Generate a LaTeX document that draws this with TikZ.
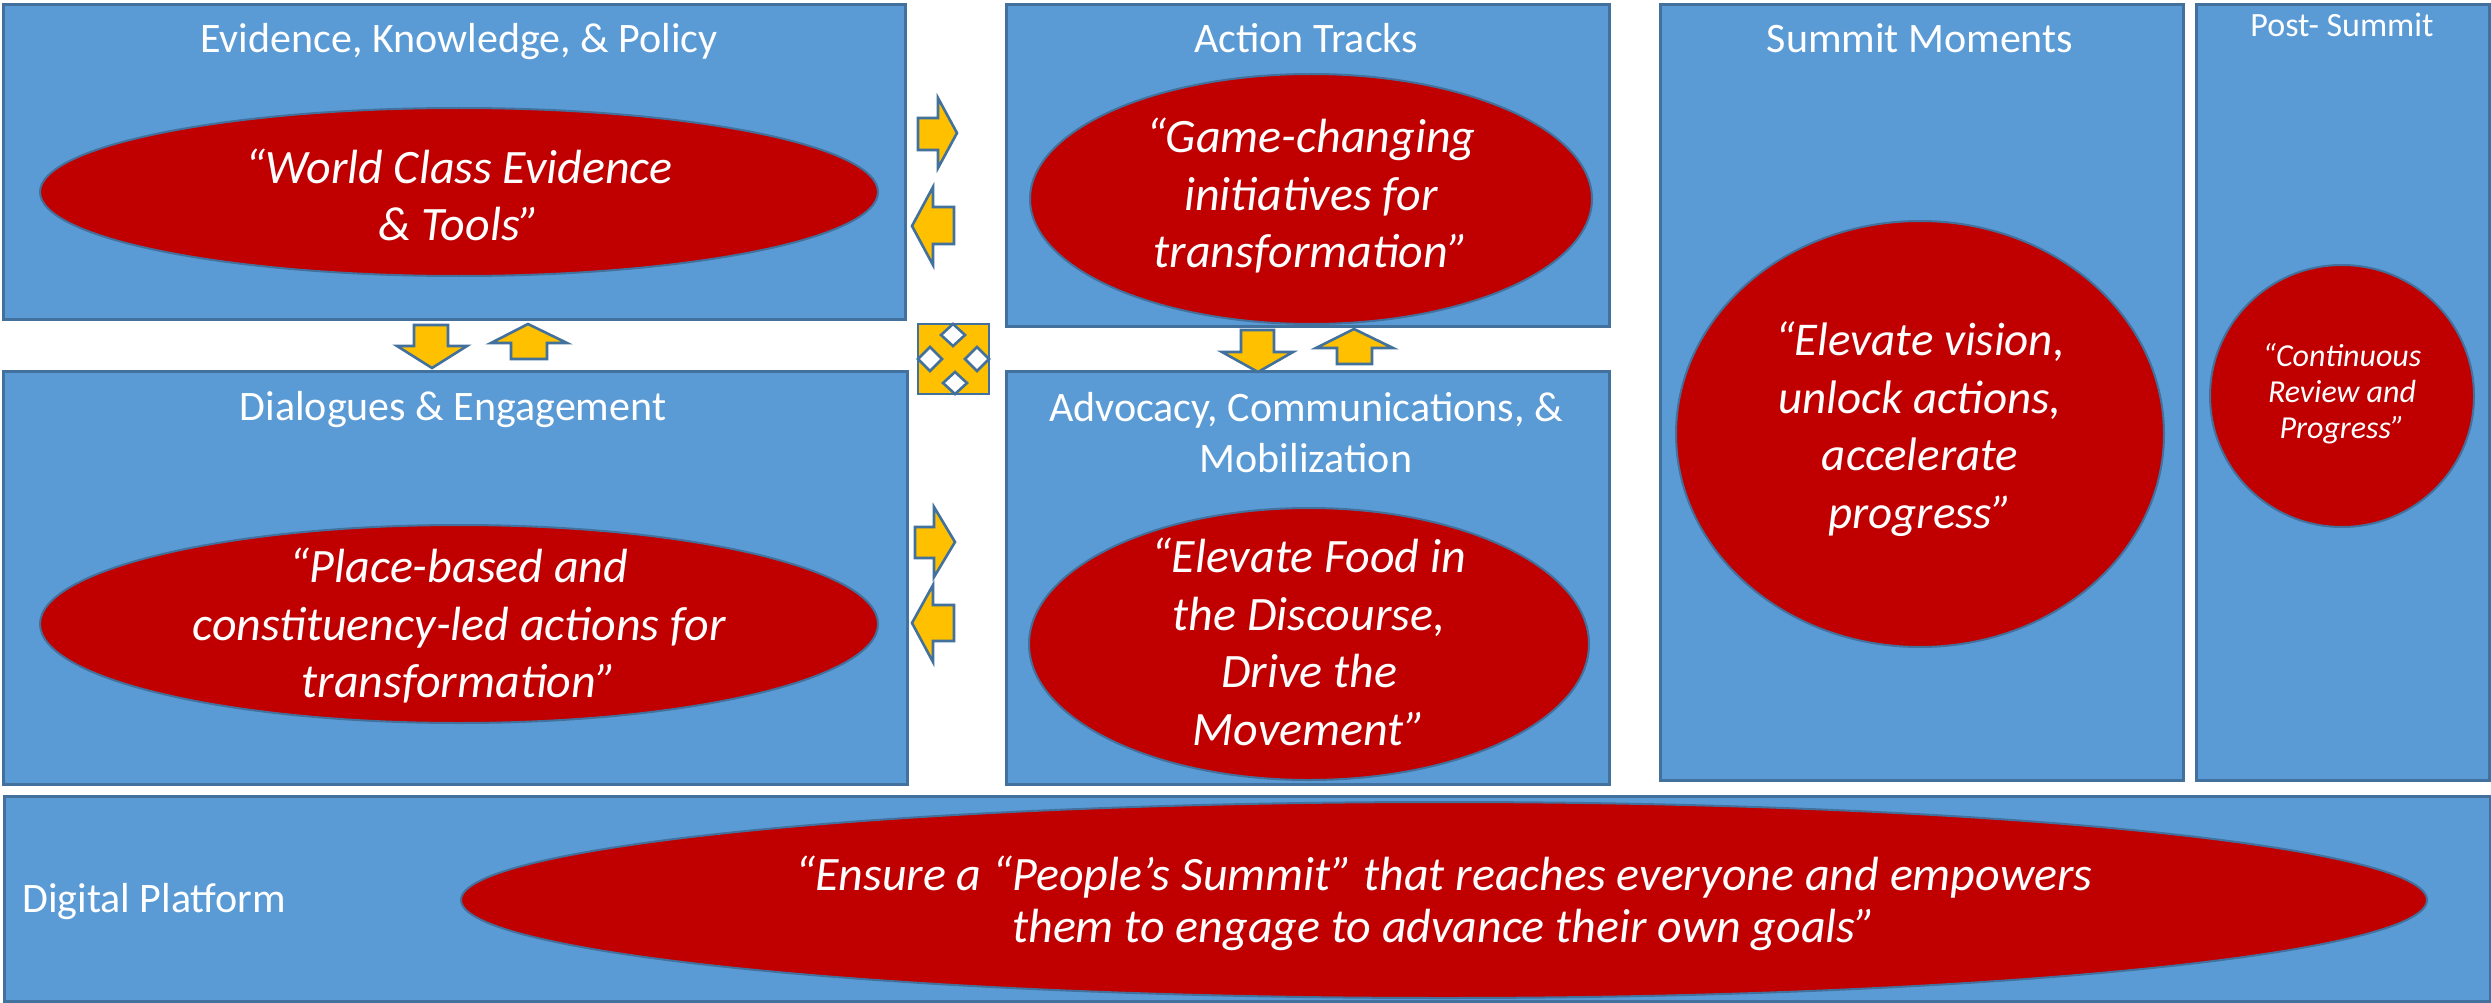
\documentclass[tikz,border=0pt]{standalone}
\usepackage{fontspec}
\setmainfont{Carlito}
\usetikzlibrary{shapes.geometric}
\definecolor{boxfill}{HTML}{5B9BD5}
\definecolor{boxline}{HTML}{41719C}
\definecolor{ellfill}{HTML}{C00000}
\definecolor{arrfill}{HTML}{FFC000}
\tikzset{
  panel/.style={draw=boxline, fill=boxfill, line width=3pt, inner sep=0pt, anchor=north west, rectangle},
  redell/.style={ellipse, draw=boxline, fill=ellfill, line width=2pt, inner sep=0pt},
  etext/.style={text=white, align=center, inner sep=0pt, font=\itshape\fontsize{48}{57.5}\selectfont},
  ttl/.style={text=white, inner sep=0pt, font=\fontsize{42}{51}\selectfont},
  blockarrow/.style={draw=boxline, fill=arrfill, line width=2.6pt, line join=miter},
  notch/.style={draw=boxline, fill=white, line width=2.6pt, line join=miter}
}
\begin{document}
\begin{tikzpicture}[x=1pt, y=-1pt]
\useasboundingbox (0,0) rectangle (2491,1003);
\fill[white] (0,0) rectangle (2491,1003);

% panels
\node[panel, minimum width=902pt, minimum height=315pt] (evid) at (2,3) {};
\node[panel, minimum width=904pt, minimum height=413pt] (dial) at (2,370) {};
\node[panel, minimum width=603pt, minimum height=322pt] (act) at (1005,3) {};
\node[panel, minimum width=603pt, minimum height=413pt] (adv) at (1005,370) {};
\node[panel, minimum width=523pt, minimum height=776pt] (summ) at (1659,3) {};
\node[panel, minimum width=293pt, minimum height=776pt] (post) at (2195,3) {};
\node[panel, minimum width=2486pt, minimum height=205pt] (dig) at (3,795) {};

% titles
\node[ttl, anchor=base] (evidT) at (459,53) {Evidence, Knowledge, \& Policy};
\node[ttl, anchor=base] (actT) at (1306,53) {Action Tracks};
\node[ttl, anchor=base] (dialT) at (453,420) {Dialogues \& Engagement};
\node[ttl, align=center] (advT) at (1306,433) {Advocacy, Communications, \&\\Mobilization};
\node[ttl, anchor=base] (summT) at (1920,53) {Summit Moments};
\node[ttl, anchor=base, font=\fontsize{34}{41}\selectfont] (postT) at (2342,37) {Post- Summit};
\node[ttl, anchor=base west] (digT) at (22,912) {Digital Platform};

% ellipses
\node[redell, minimum width=838pt, minimum height=168pt] (e1) at (459,192) {};
\node[etext] (e1t) at (459,195) {“World Class Evidence\\\& Tools”};
\node[redell, minimum width=562pt, minimum height=250pt] (e2) at (1311,199) {};
\node[etext] (e2t) at (1311,196) {“Game-changing\\initiatives for\\transformation”};
\node[redell, minimum width=838pt, minimum height=198pt] (e3) at (459,624) {};
\node[etext] (e3t) at (459,626) {“Place-based and\\constituency-led actions for\\transformation”};
\node[redell, minimum width=560pt, minimum height=272pt] (e4) at (1309,644) {};
\node[etext] (e4t) at (1309,642) {“Elevate Food in\\the Discourse,\\Drive the\\Movement”};
\node[redell, minimum width=488pt, minimum height=426pt] (e5) at (1920,434) {};
\node[etext, font=\itshape\fontsize{47}{57.5}\selectfont] (e5t) at (1920,429) {“Elevate vision,\\unlock actions,\\accelerate\\progress”};
\node[redell, minimum width=264pt, minimum height=262pt] (e6) at (2342,396) {};
\node[etext, font=\itshape\fontsize{32}{36}\selectfont] (e6t) at (2342,394) {“Continuous\\Review and\\Progress”};
\node[redell, minimum width=1966pt, minimum height=196pt] (e7) at (1444,900) {};
\node[etext, font=\itshape\fontsize{48}{52}\selectfont] (e7t) at (1444,903) {“Ensure a “People’s Summit” that reaches everyone and empowers\\them to engage to advance their own goals”};

% block arrows between evidence and action tracks
\draw[blockarrow] (918,118) -- (938,118) -- (938,98) -- (957,133) -- (938,168) -- (938,150) -- (918,150) -- cycle;
\draw[blockarrow] (912,226) -- (933,187) -- (933,207) -- (954,207) -- (954,244) -- (933,244) -- (933,265) -- cycle;
% between dialogues and advocacy
\draw[blockarrow] (915,527) -- (934,527) -- (934,507) -- (955,542) -- (934,577) -- (934,558) -- (915,558) -- cycle;
\draw[blockarrow] (912,623) -- (933,585) -- (933,605) -- (954,605) -- (954,641) -- (933,641) -- (933,662) -- cycle;
% vertical arrows left
\draw[blockarrow] (414,325) -- (448,325) -- (448,346) -- (467,346) -- (432,368) -- (397,346) -- (414,346) -- cycle;
\draw[blockarrow] (528,324) -- (567,343) -- (547,343) -- (547,359) -- (511,359) -- (511,343) -- (491,343) -- cycle;
% vertical arrows right
\draw[blockarrow] (1241,330) -- (1274,330) -- (1274,352) -- (1293,352) -- (1258,372) -- (1222,352) -- (1241,352) -- cycle;
\draw[blockarrow] (1354,329) -- (1393,348) -- (1372,348) -- (1372,364) -- (1337,364) -- (1337,348) -- (1316,348) -- cycle;
% quad arrow
\draw[blockarrow] (918,324) rectangle (989,394);
\draw[notch] (953,324) -- (965,335) -- (953,346) -- (941,335) -- cycle;
\draw[notch] (955,394) -- (967,383) -- (955,372) -- (943,383) -- cycle;
\draw[notch] (918,359) -- (930,347) -- (942,359) -- (930,371) -- cycle;
\draw[notch] (989,359) -- (977,347) -- (965,359) -- (977,371) -- cycle;
\end{tikzpicture}
\end{document}
